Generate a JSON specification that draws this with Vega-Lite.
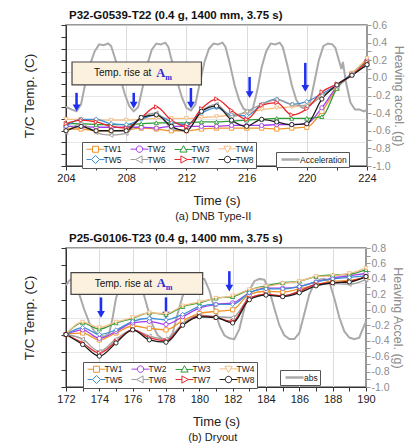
{
  "$schema": "https://vega.github.io/schema/vega-lite/v6.json",
  "padding": {"left": 21, "top": 8, "right": 2, "bottom": 0},
  "config": {
    "font": "Liberation Sans",
    "view": {"stroke": "#777", "strokeWidth": 1.5},
    "axis": {"labelFont": "Liberation Sans", "titleFont": "Liberation Sans", "labelFontSize": 11, "titleFontSize": 13, "titleFontWeight": "normal", "labelColor": "#222", "titleColor": "#222", "domainColor": "#333", "tickColor": "#333", "gridColor": "#dcdcdc"},
    "legend": {"labelFont": "Liberation Sans", "labelFontSize": 8.5, "labelColor": "#222"},
    "title": {"font": "Liberation Sans"}
  },
  "datasets": {
    "p1temp": [
      {"s":"TW1","t":204,"T":-0.58},{"s":"TW1","t":205,"T":-0.58},{"s":"TW1","t":206,"T":-0.6},{"s":"TW1","t":207,"T":-0.6},{"s":"TW1","t":208,"T":-0.59},{"s":"TW1","t":209,"T":-0.57},{"s":"TW1","t":210,"T":-0.58},{"s":"TW1","t":211,"T":-0.6},{"s":"TW1","t":212,"T":-0.6},{"s":"TW1","t":213,"T":-0.58},{"s":"TW1","t":214,"T":-0.57},{"s":"TW1","t":215,"T":-0.57},{"s":"TW1","t":216,"T":-0.57},{"s":"TW1","t":217,"T":-0.57},{"s":"TW1","t":218,"T":-0.58},{"s":"TW1","t":219,"T":-0.57},{"s":"TW1","t":220,"T":-0.56},{"s":"TW1","t":221,"T":-0.38},{"s":"TW1","t":222,"T":-0.12},{"s":"TW1","t":223,"T":0.05},{"s":"TW1","t":224,"T":0.18},
      {"s":"TW2","t":204,"T":-0.55},{"s":"TW2","t":205,"T":-0.55},{"s":"TW2","t":206,"T":-0.56},{"s":"TW2","t":207,"T":-0.56},{"s":"TW2","t":208,"T":-0.56},{"s":"TW2","t":209,"T":-0.56},{"s":"TW2","t":210,"T":-0.57},{"s":"TW2","t":211,"T":-0.55},{"s":"TW2","t":212,"T":-0.55},{"s":"TW2","t":213,"T":-0.55},{"s":"TW2","t":214,"T":-0.55},{"s":"TW2","t":215,"T":-0.54},{"s":"TW2","t":216,"T":-0.54},{"s":"TW2","t":217,"T":-0.54},{"s":"TW2","t":218,"T":-0.53},{"s":"TW2","t":219,"T":-0.53},{"s":"TW2","t":220,"T":-0.52},{"s":"TW2","t":221,"T":-0.34},{"s":"TW2","t":222,"T":-0.1},{"s":"TW2","t":223,"T":0.05},{"s":"TW2","t":224,"T":0.2},
      {"s":"TW3","t":204,"T":-0.52},{"s":"TW3","t":205,"T":-0.52},{"s":"TW3","t":206,"T":-0.53},{"s":"TW3","t":207,"T":-0.53},{"s":"TW3","t":208,"T":-0.53},{"s":"TW3","t":209,"T":-0.52},{"s":"TW3","t":210,"T":-0.51},{"s":"TW3","t":211,"T":-0.51},{"s":"TW3","t":212,"T":-0.51},{"s":"TW3","t":213,"T":-0.5},{"s":"TW3","t":214,"T":-0.5},{"s":"TW3","t":215,"T":-0.49},{"s":"TW3","t":216,"T":-0.48},{"s":"TW3","t":217,"T":-0.47},{"s":"TW3","t":218,"T":-0.46},{"s":"TW3","t":219,"T":-0.46},{"s":"TW3","t":220,"T":-0.46},{"s":"TW3","t":221,"T":-0.44},{"s":"TW3","t":222,"T":-0.12},{"s":"TW3","t":223,"T":0.05},{"s":"TW3","t":224,"T":0.2},
      {"s":"TW4","t":204,"T":-0.47},{"s":"TW4","t":205,"T":-0.47},{"s":"TW4","t":206,"T":-0.48},{"s":"TW4","t":207,"T":-0.48},{"s":"TW4","t":208,"T":-0.48},{"s":"TW4","t":209,"T":-0.47},{"s":"TW4","t":210,"T":-0.46},{"s":"TW4","t":211,"T":-0.46},{"s":"TW4","t":212,"T":-0.46},{"s":"TW4","t":213,"T":-0.45},{"s":"TW4","t":214,"T":-0.44},{"s":"TW4","t":215,"T":-0.42},{"s":"TW4","t":216,"T":-0.4},{"s":"TW4","t":217,"T":-0.36},{"s":"TW4","t":218,"T":-0.34},{"s":"TW4","t":219,"T":-0.33},{"s":"TW4","t":220,"T":-0.3},{"s":"TW4","t":221,"T":-0.22},{"s":"TW4","t":222,"T":-0.08},{"s":"TW4","t":223,"T":0.05},{"s":"TW4","t":224,"T":0.22},
      {"s":"TW5","t":204,"T":-0.55},{"s":"TW5","t":205,"T":-0.47},{"s":"TW5","t":206,"T":-0.47},{"s":"TW5","t":207,"T":-0.52},{"s":"TW5","t":208,"T":-0.53},{"s":"TW5","t":209,"T":-0.47},{"s":"TW5","t":210,"T":-0.42},{"s":"TW5","t":211,"T":-0.5},{"s":"TW5","t":212,"T":-0.53},{"s":"TW5","t":213,"T":-0.4},{"s":"TW5","t":214,"T":-0.34},{"s":"TW5","t":215,"T":-0.42},{"s":"TW5","t":216,"T":-0.43},{"s":"TW5","t":217,"T":-0.3},{"s":"TW5","t":218,"T":-0.24},{"s":"TW5","t":219,"T":-0.3},{"s":"TW5","t":220,"T":-0.27},{"s":"TW5","t":221,"T":-0.18},{"s":"TW5","t":222,"T":-0.08},{"s":"TW5","t":223,"T":0.04},{"s":"TW5","t":224,"T":0.14},
      {"s":"TW6","t":204,"T":-0.62},{"s":"TW6","t":205,"T":-0.52},{"s":"TW6","t":206,"T":-0.62},{"s":"TW6","t":207,"T":-0.65},{"s":"TW6","t":208,"T":-0.63},{"s":"TW6","t":209,"T":-0.45},{"s":"TW6","t":210,"T":-0.4},{"s":"TW6","t":211,"T":-0.57},{"s":"TW6","t":212,"T":-0.6},{"s":"TW6","t":213,"T":-0.38},{"s":"TW6","t":214,"T":-0.3},{"s":"TW6","t":215,"T":-0.44},{"s":"TW6","t":216,"T":-0.38},{"s":"TW6","t":217,"T":-0.3},{"s":"TW6","t":218,"T":-0.25},{"s":"TW6","t":219,"T":-0.3},{"s":"TW6","t":220,"T":-0.32},{"s":"TW6","t":221,"T":-0.2},{"s":"TW6","t":222,"T":-0.1},{"s":"TW6","t":223,"T":0.03},{"s":"TW6","t":224,"T":0.15},
      {"s":"TW7","t":204,"T":-0.52},{"s":"TW7","t":205,"T":-0.48},{"s":"TW7","t":206,"T":-0.5},{"s":"TW7","t":207,"T":-0.55},{"s":"TW7","t":208,"T":-0.57},{"s":"TW7","t":209,"T":-0.45},{"s":"TW7","t":210,"T":-0.33},{"s":"TW7","t":211,"T":-0.48},{"s":"TW7","t":212,"T":-0.55},{"s":"TW7","t":213,"T":-0.35},{"s":"TW7","t":214,"T":-0.24},{"s":"TW7","t":215,"T":-0.37},{"s":"TW7","t":216,"T":-0.47},{"s":"TW7","t":217,"T":-0.31},{"s":"TW7","t":218,"T":-0.28},{"s":"TW7","t":219,"T":-0.42},{"s":"TW7","t":220,"T":-0.35},{"s":"TW7","t":221,"T":-0.16},{"s":"TW7","t":222,"T":-0.07},{"s":"TW7","t":223,"T":0.03},{"s":"TW7","t":224,"T":0.18},
      {"s":"TW8","t":204,"T":-0.6},{"s":"TW8","t":205,"T":-0.55},{"s":"TW8","t":206,"T":-0.6},{"s":"TW8","t":207,"T":-0.6},{"s":"TW8","t":208,"T":-0.6},{"s":"TW8","t":209,"T":-0.45},{"s":"TW8","t":210,"T":-0.42},{"s":"TW8","t":211,"T":-0.55},{"s":"TW8","t":212,"T":-0.6},{"s":"TW8","t":213,"T":-0.38},{"s":"TW8","t":214,"T":-0.32},{"s":"TW8","t":215,"T":-0.48},{"s":"TW8","t":216,"T":-0.55},{"s":"TW8","t":217,"T":-0.47},{"s":"TW8","t":218,"T":-0.5},{"s":"TW8","t":219,"T":-0.53},{"s":"TW8","t":220,"T":-0.52},{"s":"TW8","t":221,"T":-0.24},{"s":"TW8","t":222,"T":-0.08},{"s":"TW8","t":223,"T":0.03},{"s":"TW8","t":224,"T":0.15}
    ],
    "p1acc": [
      {"t":204.0,"a":-0.33},{"t":204.4,"a":-0.36},{"t":204.7,"a":-0.38},{"t":205.0,"a":-0.3},{"t":205.3,"a":-0.05},{"t":205.6,"a":0.15},{"t":205.9,"a":0.3},{"t":206.2,"a":0.38},{"t":206.5,"a":0.37},{"t":206.8,"a":0.39},{"t":207.0,"a":0.36},{"t":207.3,"a":0.2},{"t":207.6,"a":0.0},{"t":207.9,"a":-0.18},{"t":208.2,"a":-0.32},{"t":208.5,"a":-0.38},{"t":208.8,"a":-0.33},{"t":209.1,"a":-0.1},{"t":209.4,"a":0.15},{"t":209.7,"a":0.32},{"t":210.0,"a":0.39},{"t":210.3,"a":0.38},{"t":210.6,"a":0.4},{"t":210.8,"a":0.35},{"t":211.1,"a":0.15},{"t":211.4,"a":-0.05},{"t":211.7,"a":-0.22},{"t":212.0,"a":-0.34},{"t":212.3,"a":-0.37},{"t":212.6,"a":-0.3},{"t":212.9,"a":-0.05},{"t":213.2,"a":0.18},{"t":213.5,"a":0.33},{"t":213.8,"a":0.39},{"t":214.1,"a":0.38},{"t":214.4,"a":0.4},{"t":214.6,"a":0.35},{"t":214.9,"a":0.15},{"t":215.2,"a":-0.08},{"t":215.5,"a":-0.25},{"t":215.8,"a":-0.35},{"t":216.1,"a":-0.38},{"t":216.4,"a":-0.36},{"t":216.7,"a":-0.15},{"t":217.0,"a":0.12},{"t":217.3,"a":0.3},{"t":217.6,"a":0.39},{"t":217.9,"a":0.38},{"t":218.2,"a":0.4},{"t":218.4,"a":0.35},{"t":218.7,"a":0.15},{"t":219.0,"a":-0.08},{"t":219.3,"a":-0.25},{"t":219.6,"a":-0.33},{"t":219.9,"a":-0.35},{"t":220.2,"a":-0.3},{"t":220.5,"a":-0.05},{"t":220.8,"a":0.2},{"t":221.1,"a":0.36},{"t":221.4,"a":0.39},{"t":221.7,"a":0.38},{"t":221.9,"a":0.34},{"t":222.1,"a":0.22},{"t":222.3,"a":0.1},{"t":222.4,"a":0.18},{"t":222.6,"a":-0.05},{"t":222.9,"a":-0.28},{"t":223.2,"a":-0.36},{"t":223.5,"a":-0.36},{"t":223.8,"a":-0.38},{"t":224.0,"a":-0.36}
    ],
    "p2temp": [
      {"s":"TW1","t":172,"T":-0.32},{"s":"TW1","t":173,"T":-0.3},{"s":"TW1","t":174,"T":-0.39},{"s":"TW1","t":175,"T":-0.3},{"s":"TW1","t":176,"T":-0.21},{"s":"TW1","t":177,"T":-0.24},{"s":"TW1","t":178,"T":-0.26},{"s":"TW1","t":179,"T":-0.14},{"s":"TW1","t":180,"T":-0.05},{"s":"TW1","t":181,"T":-0.02},{"s":"TW1","t":182,"T":0.0},{"s":"TW1","t":183,"T":0.2},{"s":"TW1","t":184,"T":0.24},{"s":"TW1","t":185,"T":0.23},{"s":"TW1","t":186,"T":0.27},{"s":"TW1","t":187,"T":0.32},{"s":"TW1","t":188,"T":0.37},{"s":"TW1","t":189,"T":0.38},{"s":"TW1","t":190,"T":0.42},
      {"s":"TW2","t":172,"T":-0.32},{"s":"TW2","t":173,"T":-0.26},{"s":"TW2","t":174,"T":-0.37},{"s":"TW2","t":175,"T":-0.28},{"s":"TW2","t":176,"T":-0.17},{"s":"TW2","t":177,"T":-0.15},{"s":"TW2","t":178,"T":-0.19},{"s":"TW2","t":179,"T":-0.09},{"s":"TW2","t":180,"T":0.02},{"s":"TW2","t":181,"T":0.07},{"s":"TW2","t":182,"T":0.09},{"s":"TW2","t":183,"T":0.22},{"s":"TW2","t":184,"T":0.28},{"s":"TW2","t":185,"T":0.28},{"s":"TW2","t":186,"T":0.3},{"s":"TW2","t":187,"T":0.36},{"s":"TW2","t":188,"T":0.41},{"s":"TW2","t":189,"T":0.44},{"s":"TW2","t":190,"T":0.47},
      {"s":"TW3","t":172,"T":-0.32},{"s":"TW3","t":173,"T":-0.17},{"s":"TW3","t":174,"T":-0.25},{"s":"TW3","t":175,"T":-0.17},{"s":"TW3","t":176,"T":-0.11},{"s":"TW3","t":177,"T":-0.04},{"s":"TW3","t":178,"T":-0.06},{"s":"TW3","t":179,"T":0.04},{"s":"TW3","t":180,"T":0.09},{"s":"TW3","t":181,"T":0.15},{"s":"TW3","t":182,"T":0.17},{"s":"TW3","t":183,"T":0.26},{"s":"TW3","t":184,"T":0.31},{"s":"TW3","t":185,"T":0.35},{"s":"TW3","t":186,"T":0.37},{"s":"TW3","t":187,"T":0.43},{"s":"TW3","t":188,"T":0.45},{"s":"TW3","t":189,"T":0.46},{"s":"TW3","t":190,"T":0.52},
      {"s":"TW4","t":172,"T":-0.32},{"s":"TW4","t":173,"T":-0.16},{"s":"TW4","t":174,"T":-0.23},{"s":"TW4","t":175,"T":-0.16},{"s":"TW4","t":176,"T":-0.1},{"s":"TW4","t":177,"T":-0.04},{"s":"TW4","t":178,"T":-0.05},{"s":"TW4","t":179,"T":0.05},{"s":"TW4","t":180,"T":0.1},{"s":"TW4","t":181,"T":0.15},{"s":"TW4","t":182,"T":0.18},{"s":"TW4","t":183,"T":0.26},{"s":"TW4","t":184,"T":0.3},{"s":"TW4","t":185,"T":0.34},{"s":"TW4","t":186,"T":0.37},{"s":"TW4","t":187,"T":0.43},{"s":"TW4","t":188,"T":0.44},{"s":"TW4","t":189,"T":0.47},{"s":"TW4","t":190,"T":0.54},
      {"s":"TW5","t":172,"T":-0.32},{"s":"TW5","t":173,"T":-0.23},{"s":"TW5","t":174,"T":-0.32},{"s":"TW5","t":175,"T":-0.26},{"s":"TW5","t":176,"T":-0.15},{"s":"TW5","t":177,"T":-0.11},{"s":"TW5","t":178,"T":-0.13},{"s":"TW5","t":179,"T":-0.06},{"s":"TW5","t":180,"T":0.04},{"s":"TW5","t":181,"T":0.07},{"s":"TW5","t":182,"T":0.07},{"s":"TW5","t":183,"T":0.22},{"s":"TW5","t":184,"T":0.27},{"s":"TW5","t":185,"T":0.27},{"s":"TW5","t":186,"T":0.3},{"s":"TW5","t":187,"T":0.36},{"s":"TW5","t":188,"T":0.4},{"s":"TW5","t":189,"T":0.42},{"s":"TW5","t":190,"T":0.44},
      {"s":"TW6","t":172,"T":-0.32},{"s":"TW6","t":173,"T":-0.38},{"s":"TW6","t":174,"T":-0.54},{"s":"TW6","t":175,"T":-0.38},{"s":"TW6","t":176,"T":-0.26},{"s":"TW6","t":177,"T":-0.34},{"s":"TW6","t":178,"T":-0.38},{"s":"TW6","t":179,"T":-0.18},{"s":"TW6","t":180,"T":-0.07},{"s":"TW6","t":181,"T":-0.09},{"s":"TW6","t":182,"T":-0.1},{"s":"TW6","t":183,"T":0.15},{"s":"TW6","t":184,"T":0.2},{"s":"TW6","t":185,"T":0.18},{"s":"TW6","t":186,"T":0.24},{"s":"TW6","t":187,"T":0.33},{"s":"TW6","t":188,"T":0.34},{"s":"TW6","t":189,"T":0.33},{"s":"TW6","t":190,"T":0.39},
      {"s":"TW7","t":172,"T":-0.32},{"s":"TW7","t":173,"T":-0.43},{"s":"TW7","t":174,"T":-0.56},{"s":"TW7","t":175,"T":-0.41},{"s":"TW7","t":176,"T":-0.26},{"s":"TW7","t":177,"T":-0.36},{"s":"TW7","t":178,"T":-0.4},{"s":"TW7","t":179,"T":-0.2},{"s":"TW7","t":180,"T":-0.08},{"s":"TW7","t":181,"T":-0.1},{"s":"TW7","t":182,"T":-0.15},{"s":"TW7","t":183,"T":0.15},{"s":"TW7","t":184,"T":0.2},{"s":"TW7","t":185,"T":0.18},{"s":"TW7","t":186,"T":0.24},{"s":"TW7","t":187,"T":0.33},{"s":"TW7","t":188,"T":0.35},{"s":"TW7","t":189,"T":0.37},{"s":"TW7","t":190,"T":0.43},
      {"s":"TW8","t":172,"T":-0.32},{"s":"TW8","t":173,"T":-0.45},{"s":"TW8","t":174,"T":-0.6},{"s":"TW8","t":175,"T":-0.43},{"s":"TW8","t":176,"T":-0.26},{"s":"TW8","t":177,"T":-0.39},{"s":"TW8","t":178,"T":-0.42},{"s":"TW8","t":179,"T":-0.2},{"s":"TW8","t":180,"T":-0.09},{"s":"TW8","t":181,"T":-0.1},{"s":"TW8","t":182,"T":-0.17},{"s":"TW8","t":183,"T":0.13},{"s":"TW8","t":184,"T":0.19},{"s":"TW8","t":185,"T":0.17},{"s":"TW8","t":186,"T":0.22},{"s":"TW8","t":187,"T":0.31},{"s":"TW8","t":188,"T":0.35},{"s":"TW8","t":189,"T":0.36},{"s":"TW8","t":190,"T":0.43}
    ],
    "p2acc": [
      {"t":172.0,"a":0.32},{"t":172.2,"a":0.38},{"t":172.4,"a":0.4},{"t":172.6,"a":0.33},{"t":172.8,"a":0.2},{"t":173.1,"a":0.0},{"t":173.4,"a":-0.17},{"t":173.7,"a":-0.28},{"t":174.0,"a":-0.33},{"t":174.3,"a":-0.35},{"t":174.6,"a":-0.3},{"t":174.8,"a":-0.1},{"t":175.0,"a":0.15},{"t":175.3,"a":0.32},{"t":175.6,"a":0.39},{"t":176.0,"a":0.4},{"t":176.3,"a":0.39},{"t":176.6,"a":0.25},{"t":176.9,"a":0.02},{"t":177.2,"a":-0.2},{"t":177.5,"a":-0.33},{"t":177.8,"a":-0.38},{"t":178.1,"a":-0.4},{"t":178.4,"a":-0.3},{"t":178.7,"a":-0.05},{"t":179.0,"a":0.18},{"t":179.3,"a":0.33},{"t":179.6,"a":0.39},{"t":180.0,"a":0.4},{"t":180.3,"a":0.4},{"t":180.6,"a":0.25},{"t":180.9,"a":0.02},{"t":181.2,"a":-0.2},{"t":181.5,"a":-0.33},{"t":181.8,"a":-0.37},{"t":182.1,"a":-0.38},{"t":182.4,"a":-0.25},{"t":182.7,"a":0.02},{"t":183.0,"a":0.25},{"t":183.3,"a":0.37},{"t":183.6,"a":0.4},{"t":183.9,"a":0.39},{"t":184.2,"a":0.25},{"t":184.5,"a":0.02},{"t":184.8,"a":-0.2},{"t":185.1,"a":-0.33},{"t":185.4,"a":-0.38},{"t":185.7,"a":-0.38},{"t":186.0,"a":-0.3},{"t":186.3,"a":-0.05},{"t":186.6,"a":0.2},{"t":186.9,"a":0.34},{"t":187.2,"a":0.39},{"t":187.5,"a":0.4},{"t":187.8,"a":0.36},{"t":188.1,"a":0.15},{"t":188.4,"a":-0.1},{"t":188.7,"a":-0.28},{"t":189.0,"a":-0.36},{"t":189.3,"a":-0.38},{"t":189.6,"a":-0.36},{"t":189.8,"a":-0.25},{"t":190.0,"a":-0.15}
    ]
  },
  "spacing": 9,
  "resolve": {"scale": {"color": "independent", "stroke": "independent"}, "legend": {"color": "independent", "stroke": "independent"}},
  "vconcat": [
    {
      "title": {"text": "(a) DNB Type-II", "orient": "bottom", "anchor": "middle", "fontSize": 11, "fontWeight": "normal", "offset": 3, "color": "#222"},
      "vconcat": [
        {
          "width": 301,
          "height": 141,
          "title": {"text": "P32-G0539-T22 (0.4 g, 1400 mm, 3.75 s)", "anchor": "start", "frame": "group", "fontSize": 11.5, "fontWeight": "bold", "offset": -1, "dx": 3, "color": "#111"},
          "encoding": {
            "x": {"field": "t", "type": "quantitative", "scale": {"domain": [204, 224], "nice": false, "zero": false},
              "axis": {"values": [204,206,208,210,212,214,216,218,220,222,224], "labelExpr": "(datum.value - 204) % 4 === 0 ? datum.label : ''", "grid": true, "gridOpacity": {"condition": {"test": "(datum.value - 204) % 4 === 0", "value": 1}, "value": 0}, "title": "Time (s)", "titlePadding": 11, "tickSize": 4, "labelPadding": 2, "labelFlush": false}}
          },
          "layer": [
            {
              "encoding": {
                "y": {"field": "a", "type": "quantitative", "scale": {"domain": [-1, 0.6], "nice": false, "zero": false},
                  "axis": {"orient": "right", "values": [-1,-0.9,-0.8,-0.7,-0.6,-0.5,-0.4,-0.3,-0.2,-0.1,0,0.1,0.2,0.3,0.4,0.5,0.6], "labelExpr": "abs(round(datum.value * 10)) % 2 === 0 ? replace(format(datum.value, '.1f'), '\u2212', '-') : ''", "grid": false, "title": "Heaving accel. (g)", "labelColor": "#8c8c8c", "titleColor": "#8c8c8c", "domainColor": "#999", "tickColor": "#999", "tickSize": 4, "labelPadding": 1, "titlePadding": 1, "labelFontSize": 10.5, "titleFontSize": 12.5}}
              },
              "layer": [
                {
                  "data": {"name": "p1acc"},
                  "mark": {"type": "line", "strokeWidth": 2, "opacity": 1},
                  "encoding": {
                    "stroke": {"datum": "Acceleration", "type": "nominal", "scale": {"range": ["#aaaaaa"]},
                      "legend": {"orient": "none", "legendX": 210, "legendY": 127, "title": null, "fillColor": "white", "strokeColor": "#555", "padding": 2, "symbolType": "M-2.25,0L2.25,0", "symbolSize": 64, "symbolStrokeWidth": 2.5, "symbolOffset": 7, "labelOffset": 4, "labelFontSize": 8.5}}
                  }
                },
                {
                  "data": {"values": [{"t": 204.4, "t2": 213.0, "a": -0.08, "a2": 0.18}]},
                  "mark": {"type": "rect", "fill": "#FCF1DE", "stroke": "#444", "strokeWidth": 1.2},
                  "encoding": {"x2": {"field": "t2"}, "y2": {"field": "a2"}}
                },
                {
                  "data": {"values": [{"t": 205.86, "a": 0.05, "txt": "Temp. rise at"}]},
                  "mark": {"type": "text", "align": "left", "baseline": "middle", "fontSize": 10, "font": "Liberation Sans", "color": "#111"},
                  "encoding": {"text": {"field": "txt"}}
                },
                {
                  "data": {"values": [{"t": 210.0, "a": 0.055, "txt": "A"}]},
                  "mark": {"type": "text", "align": "left", "baseline": "middle", "fontSize": 12.5, "font": "Liberation Serif", "fontWeight": "bold", "color": "#2a2ad8"},
                  "encoding": {"text": {"field": "txt"}}
                },
                {
                  "data": {"values": [{"t": 210.6, "a": 0.0, "txt": "m"}]},
                  "mark": {"type": "text", "align": "left", "baseline": "middle", "fontSize": 8, "font": "Liberation Serif", "fontWeight": "bold", "color": "#2a2ad8"},
                  "encoding": {"text": {"field": "txt"}}
                },
                {
                  "data": {"values": [{"t": 204.7, "a": -0.17, "a2": -0.34}, {"t": 208.5, "a": -0.17, "a2": -0.31}, {"t": 212.3, "a": -0.115, "a2": -0.31}, {"t": 216.2, "a": 0.01, "a2": -0.19}, {"t": 219.9, "a": 0.17, "a2": -0.12}]},
                  "mark": {"type": "rule", "color": "#1f2ff0", "strokeWidth": 2.5},
                  "encoding": {"y2": {"field": "a2"}}
                },
                {
                  "data": {"values": [{"t": 204.7, "a2": -0.34}, {"t": 208.5, "a2": -0.31}, {"t": 212.3, "a2": -0.31}, {"t": 216.2, "a2": -0.19}, {"t": 219.9, "a2": -0.12}]},
                  "mark": {"type": "point", "shape": "triangle-down", "filled": true, "color": "#1f2ff0", "size": 60, "opacity": 1},
                  "encoding": {"y": {"field": "a2", "type": "quantitative"}}
                }
              ]
            },
            {
              "data": {"name": "p1temp"},
              "encoding": {
                "y": {"field": "T", "type": "quantitative", "scale": {"domain": [-1, 0.6], "nice": false, "zero": false},
                  "axis": {"orient": "left", "values": [-1,-0.866667,-0.733333,-0.6,-0.466667,-0.333333,-0.2,-0.066667,0.066667,0.2,0.333333,0.466667,0.6], "labels": false, "title": "T/C Temp. (C)", "grid": true, "gridOpacity": {"condition": {"test": "round((datum.value + 1) * 7.5) % 2 === 0", "value": 0.7}, "value": 0}, "tickSize": 5, "titlePadding": 24, "titleFontSize": 13.5}},
                "color": {"field": "s", "type": "nominal", "scale": {"domain": ["TW1","TW2","TW3","TW4","TW5","TW6","TW7","TW8"], "range": ["#F0932B","#A23BEC","#2E9B3A","#F5BE85","#3D8FD6","#9E9E9E","#E8262B","#1A1A1A"]},
                  "legend": {"orient": "none", "legendX": 16, "legendY": 117, "direction": "horizontal", "columns": 4, "title": null, "fillColor": "white", "strokeColor": "#555", "padding": 2, "columnPadding": 6, "rowPadding": -4, "labelFontSize": 8.5, "symbolSize": 64, "symbolOffset": 7, "labelOffset": 3.5, "symbolStrokeWidth": 1, "symbolType": "circle",
                    "encode": {"symbols": {"update": {"fill": {"value": "white"}, "size": {"value": 64}, "shape": {"signal": "datum.value === 'TW1' ? 'M-2.25,0L-0.75,0M0.75,0L2.25,0M-0.75,-0.75L0.75,-0.75L0.75,0.75L-0.75,0.75Z' : datum.value === 'TW3' ? 'M-2.25,0L-0.53,0M0.53,0L2.25,0M0,-0.95L0.9,0.65L-0.9,0.65Z' : datum.value === 'TW4' ? 'M-2.25,0L-0.53,0M0.53,0L2.25,0M0,0.95L0.9,-0.65L-0.9,-0.65Z' : datum.value === 'TW5' ? 'M-2.25,0L-1,0M1,0L2.25,0M0,-1L1,0L0,1L-1,0Z' : datum.value === 'TW6' ? 'M-2.25,0L-0.95,0M0.65,0L2.25,0M-0.95,0L0.65,-0.9L0.65,0.9Z' : datum.value === 'TW7' ? 'M-2.25,0L-0.65,0M0.95,0L2.25,0M0.95,0L-0.65,-0.9L-0.65,0.9Z' : 'M-2.25,0L-0.8,0M0.8,0L2.25,0M0.8,0A0.8,0.8 0 1,1 -0.8,0A0.8,0.8 0 1,1 0.8,0Z'"}}}}}}
              },
              "layer": [
                {"mark": {"type": "line", "strokeWidth": 1.3, "interpolate": "monotone"}},
                {"transform": [{"filter": {"field": "s", "equal": "TW1"}}], "mark": {"type": "point", "shape": "square", "filled": false, "fill": "white", "fillOpacity": 1, "size": 18, "strokeWidth": 0.9, "opacity": 1}},
                {"transform": [{"filter": {"field": "s", "equal": "TW2"}}], "mark": {"type": "point", "shape": "circle", "filled": false, "fill": "white", "fillOpacity": 1, "size": 18, "strokeWidth": 0.9, "opacity": 1}},
                {"transform": [{"filter": {"field": "s", "equal": "TW3"}}], "mark": {"type": "point", "shape": "triangle-up", "filled": false, "fill": "white", "fillOpacity": 1, "size": 18, "strokeWidth": 0.9, "opacity": 1}},
                {"transform": [{"filter": {"field": "s", "equal": "TW4"}}], "mark": {"type": "point", "shape": "triangle-down", "filled": false, "fill": "white", "fillOpacity": 1, "size": 18, "strokeWidth": 0.9, "opacity": 1}},
                {"transform": [{"filter": {"field": "s", "equal": "TW5"}}], "mark": {"type": "point", "shape": "diamond", "filled": false, "fill": "white", "fillOpacity": 1, "size": 18, "strokeWidth": 0.9, "opacity": 1}},
                {"transform": [{"filter": {"field": "s", "equal": "TW6"}}], "mark": {"type": "point", "shape": "triangle-left", "filled": false, "fill": "white", "fillOpacity": 1, "size": 18, "strokeWidth": 0.9, "opacity": 1}},
                {"transform": [{"filter": {"field": "s", "equal": "TW7"}}], "mark": {"type": "point", "shape": "triangle-right", "filled": false, "fill": "white", "fillOpacity": 1, "size": 18, "strokeWidth": 0.9, "opacity": 1}},
                {"transform": [{"filter": {"field": "s", "equal": "TW8"}}], "mark": {"type": "point", "shape": "circle", "filled": false, "fill": "white", "fillOpacity": 1, "size": 18, "strokeWidth": 0.9, "opacity": 1}}
              ]
            }
          ],
          "resolve": {"scale": {"y": "independent"}}
        }
      ]
    },
    {
      "title": {"text": "(b) Dryout", "orient": "bottom", "anchor": "middle", "fontSize": 11, "fontWeight": "normal", "offset": 3, "color": "#222"},
      "vconcat": [
        {
          "width": 300,
          "height": 139,
          "title": {"text": "P25-G0106-T23 (0.4 g, 1400 mm, 3.75 s)", "anchor": "start", "frame": "group", "fontSize": 11.5, "fontWeight": "bold", "offset": -1, "dx": 3, "color": "#111"},
          "encoding": {
            "x": {"field": "t", "type": "quantitative", "scale": {"domain": [172, 190], "nice": false, "zero": false},
              "axis": {"values": [172,173,174,175,176,177,178,179,180,181,182,183,184,185,186,187,188,189,190], "labelExpr": "datum.value % 2 === 0 ? datum.label : ''", "grid": true, "gridOpacity": {"condition": {"test": "datum.value % 2 === 0", "value": 1}, "value": 0}, "title": "Time (s)", "titlePadding": 11, "tickSize": 4, "labelPadding": 2, "labelFlush": false}}
          },
          "layer": [
            {
              "encoding": {
                "y": {"field": "a", "type": "quantitative", "scale": {"domain": [-1, 0.8], "nice": false, "zero": false},
                  "axis": {"orient": "right", "values": [-1,-0.9,-0.8,-0.7,-0.6,-0.5,-0.4,-0.3,-0.2,-0.1,0,0.1,0.2,0.3,0.4,0.5,0.6,0.7,0.8], "labelExpr": "abs(round(datum.value * 10)) % 2 === 0 ? replace(format(datum.value, '.1f'), '\u2212', '-') : ''", "grid": false, "title": "Heaving Accel. (g)", "labelColor": "#8c8c8c", "titleColor": "#8c8c8c", "domainColor": "#999", "tickColor": "#999", "tickSize": 4, "labelPadding": 1, "titlePadding": 1, "labelFontSize": 10.5, "titleFontSize": 12.5}}
              },
              "layer": [
                {
                  "data": {"name": "p2acc"},
                  "mark": {"type": "line", "strokeWidth": 2, "opacity": 1},
                  "encoding": {
                    "stroke": {"datum": "abs", "type": "nominal", "scale": {"range": ["#aaaaaa"]},
                      "legend": {"orient": "none", "legendX": 214, "legendY": 122, "title": null, "fillColor": "white", "strokeColor": "#555", "padding": 2, "symbolType": "M-2.25,0L2.25,0", "symbolSize": 64, "symbolStrokeWidth": 2.5, "symbolOffset": 7, "labelOffset": 4, "labelFontSize": 8.5}}
                  }
                },
                {
                  "data": {"values": [{"t": 172.3, "t2": 180.2, "a": 0.2, "a2": 0.48}]},
                  "mark": {"type": "rect", "fill": "#FCF1DE", "stroke": "#444", "strokeWidth": 1.2},
                  "encoding": {"x2": {"field": "t2"}, "y2": {"field": "a2"}}
                },
                {
                  "data": {"values": [{"t": 173.72, "a": 0.34, "txt": "Temp. rise at"}]},
                  "mark": {"type": "text", "align": "left", "baseline": "middle", "fontSize": 10, "font": "Liberation Sans", "color": "#111"},
                  "encoding": {"text": {"field": "txt"}}
                },
                {
                  "data": {"values": [{"t": 177.45, "a": 0.345, "txt": "A"}]},
                  "mark": {"type": "text", "align": "left", "baseline": "middle", "fontSize": 12.5, "font": "Liberation Serif", "fontWeight": "bold", "color": "#2a2ad8"},
                  "encoding": {"text": {"field": "txt"}}
                },
                {
                  "data": {"values": [{"t": 177.98, "a": 0.285, "txt": "m"}]},
                  "mark": {"type": "text", "align": "left", "baseline": "middle", "fontSize": 8, "font": "Liberation Serif", "fontWeight": "bold", "color": "#2a2ad8"},
                  "encoding": {"text": {"field": "txt"}}
                },
                {
                  "data": {"values": [{"t": 174.1, "a": 0.16, "a2": -0.06}, {"t": 178.0, "a": 0.16, "a2": -0.07}, {"t": 181.8, "a": 0.5, "a2": 0.28}]},
                  "mark": {"type": "rule", "color": "#1f2ff0", "strokeWidth": 2.5},
                  "encoding": {"y2": {"field": "a2"}}
                },
                {
                  "data": {"values": [{"t": 174.1, "a2": -0.06}, {"t": 178.0, "a2": -0.07}, {"t": 181.8, "a2": 0.28}]},
                  "mark": {"type": "point", "shape": "triangle-down", "filled": true, "color": "#1f2ff0", "size": 60, "opacity": 1},
                  "encoding": {"y": {"field": "a2", "type": "quantitative"}}
                }
              ]
            },
            {
              "data": {"name": "p2temp"},
              "encoding": {
                "y": {"field": "T", "type": "quantitative", "scale": {"domain": [-1, 0.8], "nice": false, "zero": false},
                  "axis": {"orient": "left", "values": [-1,-0.775,-0.55,-0.325,-0.1,0.125,0.35,0.575,0.8], "labels": false, "title": "T/C Temp. (C)", "grid": true, "gridOpacity": {"condition": {"test": "round((datum.value + 1) / 0.225) % 2 === 0", "value": 0.7}, "value": 0}, "tickSize": 5, "titlePadding": 24, "titleFontSize": 13.5}},
                "color": {"field": "s", "type": "nominal", "scale": {"domain": ["TW1","TW2","TW3","TW4","TW5","TW6","TW7","TW8"], "range": ["#F0932B","#A23BEC","#2E9B3A","#F5BE85","#3D8FD6","#9E9E9E","#E8262B","#1A1A1A"]},
                  "legend": {"orient": "none", "legendX": 17, "legendY": 114, "direction": "horizontal", "columns": 4, "title": null, "fillColor": "white", "strokeColor": "#555", "padding": 2, "columnPadding": 6, "rowPadding": -4, "labelFontSize": 8.5, "symbolSize": 64, "symbolOffset": 7, "labelOffset": 3.5, "symbolStrokeWidth": 1, "symbolType": "circle",
                    "encode": {"symbols": {"update": {"fill": {"value": "white"}, "size": {"value": 64}, "shape": {"signal": "datum.value === 'TW1' ? 'M-2.25,0L-0.75,0M0.75,0L2.25,0M-0.75,-0.75L0.75,-0.75L0.75,0.75L-0.75,0.75Z' : datum.value === 'TW3' ? 'M-2.25,0L-0.53,0M0.53,0L2.25,0M0,-0.95L0.9,0.65L-0.9,0.65Z' : datum.value === 'TW4' ? 'M-2.25,0L-0.53,0M0.53,0L2.25,0M0,0.95L0.9,-0.65L-0.9,-0.65Z' : datum.value === 'TW5' ? 'M-2.25,0L-1,0M1,0L2.25,0M0,-1L1,0L0,1L-1,0Z' : datum.value === 'TW6' ? 'M-2.25,0L-0.95,0M0.65,0L2.25,0M-0.95,0L0.65,-0.9L0.65,0.9Z' : datum.value === 'TW7' ? 'M-2.25,0L-0.65,0M0.95,0L2.25,0M0.95,0L-0.65,-0.9L-0.65,0.9Z' : 'M-2.25,0L-0.8,0M0.8,0L2.25,0M0.8,0A0.8,0.8 0 1,1 -0.8,0A0.8,0.8 0 1,1 0.8,0Z'"}}}}}}
              },
              "layer": [
                {"mark": {"type": "line", "strokeWidth": 1.3, "interpolate": "monotone"}},
                {"transform": [{"filter": {"field": "s", "equal": "TW1"}}], "mark": {"type": "point", "shape": "square", "filled": false, "fill": "white", "fillOpacity": 1, "size": 18, "strokeWidth": 0.9, "opacity": 1}},
                {"transform": [{"filter": {"field": "s", "equal": "TW2"}}], "mark": {"type": "point", "shape": "circle", "filled": false, "fill": "white", "fillOpacity": 1, "size": 18, "strokeWidth": 0.9, "opacity": 1}},
                {"transform": [{"filter": {"field": "s", "equal": "TW3"}}], "mark": {"type": "point", "shape": "triangle-up", "filled": false, "fill": "white", "fillOpacity": 1, "size": 18, "strokeWidth": 0.9, "opacity": 1}},
                {"transform": [{"filter": {"field": "s", "equal": "TW4"}}], "mark": {"type": "point", "shape": "triangle-down", "filled": false, "fill": "white", "fillOpacity": 1, "size": 18, "strokeWidth": 0.9, "opacity": 1}},
                {"transform": [{"filter": {"field": "s", "equal": "TW5"}}], "mark": {"type": "point", "shape": "diamond", "filled": false, "fill": "white", "fillOpacity": 1, "size": 18, "strokeWidth": 0.9, "opacity": 1}},
                {"transform": [{"filter": {"field": "s", "equal": "TW6"}}], "mark": {"type": "point", "shape": "triangle-left", "filled": false, "fill": "white", "fillOpacity": 1, "size": 18, "strokeWidth": 0.9, "opacity": 1}},
                {"transform": [{"filter": {"field": "s", "equal": "TW7"}}], "mark": {"type": "point", "shape": "triangle-right", "filled": false, "fill": "white", "fillOpacity": 1, "size": 18, "strokeWidth": 0.9, "opacity": 1}},
                {"transform": [{"filter": {"field": "s", "equal": "TW8"}}], "mark": {"type": "point", "shape": "circle", "filled": false, "fill": "white", "fillOpacity": 1, "size": 18, "strokeWidth": 0.9, "opacity": 1}}
              ]
            }
          ],
          "resolve": {"scale": {"y": "independent"}}
        }
      ]
    }
  ]
}
